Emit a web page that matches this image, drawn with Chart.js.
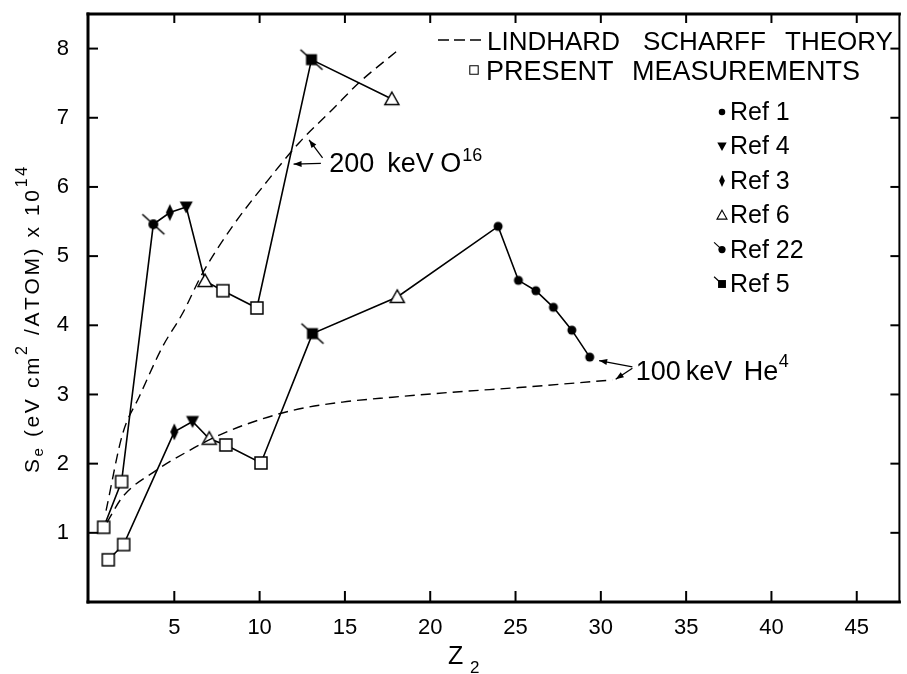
<!DOCTYPE html>
<html>
<head>
<meta charset="utf-8">
<title>Electronic stopping cross sections vs Z2</title>
<script src="https://cdn.jsdelivr.net/npm/chart.js@4/dist/chart.umd.min.js"></script>
<style>
  html, body { margin: 0; padding: 0; background: #fff; }
  canvas { display: block; }
</style>
</head>
<body>
<canvas id="chart" width="907" height="674" style="width:907px;height:674px"></canvas>
<script>
// ---- axis ticks ----
const xTicks = [5, 10, 15, 20, 25, 30, 35, 40, 45];
const yTicks = [1, 2, 3, 4, 5, 6, 7, 8];

// ---- 200 keV O16 : measured Se (10^-14 eV cm^2/atom) and source of each point ----
const oxygenZ   = [0.86, 1.91, 3.77, 4.74, 5.70, 6.80, 7.85, 9.84, 13.04, 17.75];
const oxygenSe  = [1.08, 1.74, 5.46, 5.63, 5.71, 4.64, 4.50, 4.25, 7.84, 7.27];
const oxygenRef = ['P', 'P', '22', '3', '4', '6', 'P', 'P', '5', '6'];

// ---- 100 keV He4 : measured Se and source of each point ----
const heliumZ   = [1.13, 2.03, 5.00, 6.07, 7.05, 8.02, 10.08, 13.10, 18.07, 23.98, 25.17, 26.19, 27.22, 28.30, 29.35];
const heliumSe  = [0.61, 0.83, 2.46, 2.61, 2.36, 2.27, 2.01, 3.88, 4.41, 5.43, 4.65, 4.50, 4.26, 3.93, 3.54];
const heliumRef = ['P', 'P', '3', '4', '6', 'P', 'P', '5', '6', '1', '1', '1', '1', '1', '1'];

// ---- Lindhard-Scharff theory curves ----
const lsOxygenZ  = [1.0, 1.97, 2.95, 4.31, 5.48, 6.65, 8.41, 10.37, 12.32, 14.27, 15.84, 18.18];
const lsOxygenSe = [1.32, 2.43, 2.97, 3.69, 4.17, 4.75, 5.43, 6.06, 6.64, 7.12, 7.51, 7.99];
const lsHeliumZ  = [1.05, 1.97, 3.92, 5.88, 7.44, 9.0, 11.93, 14.86, 17.79, 21.7, 25.2, 30.67];
const lsHeliumSe = [1.15, 1.52, 1.90, 2.19, 2.39, 2.55, 2.77, 2.89, 2.96, 3.04, 3.10, 3.21];

// ---- legend entries (reference numbers) ----
const legendRefs = ['1', '4', '3', '6', '22', '5'];

const FONT = '"Liberation Sans", Arial, Helvetica, sans-serif';
Chart.defaults.font.family = FONT;
Chart.defaults.color = '#000';

const pts = (xs, ys) => xs.map((x, i) => ({ x: x, y: ys[i] }));

// Marker shapes for each data source ('P' = present measurements)
function paintMarker(g, ref, legend) {
  g.save();
  g.fillStyle = '#000';
  g.strokeStyle = '#000';
  g.lineWidth = 1.5;
  g.beginPath();
  switch (ref) {
    case 'P':
      g.fillStyle = '#fff';
      g.rect(-6, -6, 12, 12);
      g.fill(); g.stroke();
      break;
    case '1':
      g.arc(0, 0, 4.5, 0, Math.PI * 2);
      g.fill();
      break;
    case '4':
      g.moveTo(-6.5, -5.5); g.lineTo(6.5, -5.5); g.lineTo(0, 6.5); g.closePath();
      g.fill();
      break;
    case '3':
      g.moveTo(0, -8.5); g.lineTo(4, 0); g.lineTo(0, 8.5); g.lineTo(-4, 0); g.closePath();
      g.fill();
      break;
    case '6':
      g.fillStyle = '#fff';
      g.moveTo(0, -7); g.lineTo(7, 5.5); g.lineTo(-7, 5.5); g.closePath();
      g.fill(); g.stroke();
      break;
    case '22':
    case '5':
      g.lineWidth = 1.6;
      g.moveTo(-11, -10);
      g.lineTo(legend ? 0 : 11, legend ? 0 : 10);
      g.stroke();
      g.beginPath();
      if (ref === '22') g.arc(0, 0, 5, 0, Math.PI * 2);
      else g.rect(-5.5, -5.5, 11, 11);
      g.fill();
      break;
  }
  g.restore();
}

function makeSprite(ref) {
  const cv = document.createElement('canvas');
  cv.width = 32; cv.height = 32;
  const g = cv.getContext('2d');
  g.translate(16, 16);
  paintMarker(g, ref, false);
  return cv;
}
const sprites = {};
['P', '1', '3', '4', '5', '6', '22'].forEach(r => { sprites[r] = makeSprite(r); });

function line(ctx, x0, y0, x1, y1) {
  ctx.beginPath(); ctx.moveTo(x0, y0); ctx.lineTo(x1, y1); ctx.stroke();
}

function arrow(ctx, x0, y0, x1, y1) {
  line(ctx, x0, y0, x1, y1);
  const a = Math.atan2(y1 - y0, x1 - x0);
  const L = 8, W = 3;
  ctx.beginPath();
  ctx.moveTo(x1, y1);
  ctx.lineTo(x1 - L * Math.cos(a) + W * Math.sin(a), y1 - L * Math.sin(a) - W * Math.cos(a));
  ctx.lineTo(x1 - L * Math.cos(a) - W * Math.sin(a), y1 - L * Math.sin(a) + W * Math.cos(a));
  ctx.closePath();
  ctx.fill();
}

function drawSpaced(ctx, str, x, y, spacing) {
  for (const ch of str) {
    ctx.fillText(ch, x, y);
    x += ctx.measureText(ch).width + spacing;
  }
  return x;
}

// Frame with inward tick marks on all four sides
const framePlugin = {
  id: 'frame',
  afterDatasetsDraw(chart) {
    const { ctx, chartArea: a, scales } = chart;
    const xs = scales.x, ys = scales.y;
    ctx.save();
    ctx.strokeStyle = '#000';
    ctx.lineCap = 'square';
    ctx.lineWidth = 3;
    line(ctx, a.left - 1, a.top, a.left - 1, a.bottom);
    line(ctx, a.left - 1, a.bottom, a.right, a.bottom);
    line(ctx, a.left - 1, a.top, a.right, a.top);
    ctx.lineWidth = 2;
    line(ctx, a.right, a.top, a.right, a.bottom);
    ctx.lineCap = 'butt';
    xTicks.forEach(v => {
      const px = xs.getPixelForValue(v);
      line(ctx, px, a.bottom, px, a.bottom - 11);
      line(ctx, px, a.top, px, a.top + 9);
    });
    yTicks.forEach(v => {
      const py = ys.getPixelForValue(v);
      line(ctx, a.left, py, a.left + 9, py);
      line(ctx, a.right, py, a.right - 9, py);
    });
    ctx.restore();
  },
  afterDraw(chart) {
    const { ctx, scales } = chart;
    const xs = scales.x, ys = scales.y;
    const X = v => xs.getPixelForValue(v);
    const Y = v => ys.getPixelForValue(v);
    ctx.save();
    ctx.fillStyle = '#000';
    ctx.strokeStyle = '#000';
    ctx.textAlign = 'left';
    ctx.textBaseline = 'alphabetic';

    // Axis titles
    ctx.font = '25px ' + FONT;
    ctx.fillText('Z', 448, 664);
    ctx.font = '17px ' + FONT;
    ctx.fillText('2', 470, 673);

    ctx.save();
    ctx.translate(39, 473);
    ctx.rotate(-Math.PI / 2);
    let p = 0;
    [['S', 21, 0], ['e', 15, 4], [' (eV cm', 21, 0], ['2', 16, -12],
     [' /ATOM) x 10', 21, 0], ['14', 16, -12]].forEach(([s, size, dy]) => {
      ctx.font = size + 'px ' + FONT;
      p = drawSpaced(ctx, s, p, dy, 2.6);
    });
    ctx.restore();

    // Curve labels with arrows
    ctx.lineWidth = 1.3;
    arrow(ctx, X(13.69), Y(6.42), X(12.9), Y(6.68));
    arrow(ctx, X(13.59), Y(6.34), X(11.99), Y(6.33));
    let ax = X(14.08), ay = Y(6.21);
    ctx.font = '27px ' + FONT;
    ctx.fillText('200', ax, ay);
    ctx.fillText('keV', ax + 58, ay);
    ctx.fillText('O', ax + 111, ay);
    ctx.font = '18px ' + FONT;
    ctx.fillText('16', ax + 133, ay - 11);

    arrow(ctx, X(31.85), Y(3.40), X(29.9), Y(3.49));
    arrow(ctx, X(31.85), Y(3.38), X(30.87), Y(3.22));
    ax = X(32.04); ay = Y(3.21);
    ctx.font = '27px ' + FONT;
    ctx.fillText('100', ax, ay);
    ctx.fillText('keV', ax + 50, ay);
    ctx.fillText('He', ax + 108, ay);
    ctx.font = '18px ' + FONT;
    ctx.fillText('4', ax + 143, ay - 13);

    // Legend
    ctx.lineWidth = 1.5;
    ctx.setLineDash([11, 5]);
    line(ctx, 438, 40, 483, 40);
    ctx.setLineDash([]);
    ctx.font = '26px ' + FONT;
    ctx.fillText('LINDHARD', 487, 50);
    ctx.fillText('SCHARFF', 643, 50);
    ctx.fillText('THEORY', 785, 50);
    ctx.save(); ctx.translate(474, 70); ctx.scale(0.7, 0.7); paintMarker(ctx, 'P', true); ctx.restore();
    ctx.font = '27px ' + FONT;
    ctx.fillText('PRESENT', 486, 80);
    ctx.fillText('MEASUREMENTS', 632, 80);

    ctx.font = '25px ' + FONT;
    legendRefs.forEach((r, i) => {
      const base = 120 + i * 34.4;
      ctx.save(); ctx.translate(722, base - 8); ctx.scale(0.72, 0.72); paintMarker(ctx, r, true); ctx.restore();
      ctx.fillText('Ref ' + r, 730, base);
    });
    ctx.restore();
  }
};

const measured = (xs, ys, refs) => ({
  data: pts(xs, ys),
  borderColor: '#000',
  borderWidth: 1.6,
  tension: 0,
  pointStyle: refs.map(r => sprites[r]),
  pointRadius: 6,
  fill: false
});

const theory = (xs, ys) => ({
  data: pts(xs, ys),
  borderColor: '#000',
  borderWidth: 1.4,
  borderDash: [10, 6],
  cubicInterpolationMode: 'monotone',
  pointRadius: 0,
  fill: false
});

new Chart(document.getElementById('chart'), {
  type: 'line',
  data: {
    datasets: [
      theory(lsOxygenZ, lsOxygenSe),
      theory(lsHeliumZ, lsHeliumSe),
      measured(oxygenZ, oxygenSe, oxygenRef),
      measured(heliumZ, heliumSe, heliumRef)
    ]
  },
  options: {
    responsive: false,
    animation: false,
    events: [],
    layout: { padding: { top: 14, right: 1, left: 0, bottom: 0 } },
    scales: {
      x: {
        type: 'linear',
        min: 0,
        max: 47.5,
        afterBuildTicks: s => { s.ticks = xTicks.map(v => ({ value: v })); },
        afterFit: s => { s.height = 72; s.paddingLeft = 0; s.paddingRight = 0; },
        grid: { display: false },
        border: { display: false },
        ticks: { font: { size: 22 }, padding: 5, maxRotation: 0, color: '#000' }
      },
      y: {
        type: 'linear',
        min: 0,
        max: 8.5,
        afterBuildTicks: s => { s.ticks = yTicks.map(v => ({ value: v })); },
        afterFit: s => { s.width = 89; s.paddingTop = 0; s.paddingBottom = 0; },
        grid: { display: false },
        border: { display: false },
        ticks: { font: { size: 22 }, padding: 12, color: '#000' }
      }
    },
    plugins: {
      legend: { display: false },
      tooltip: { enabled: false },
      title: { display: false }
    }
  },
  plugins: [framePlugin]
});
</script>
</body>
</html>
